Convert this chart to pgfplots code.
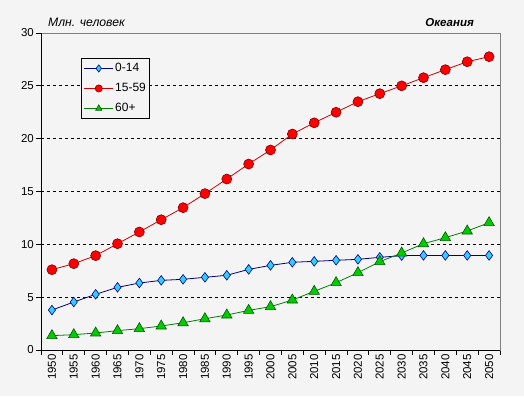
\documentclass[border=0pt]{standalone}
\usepackage{pgfplots}
\pgfplotsset{compat=1.18}
\usepackage{fontspec}
\setmainfont{Liberation Sans}
\definecolor{bg}{RGB}{244,244,244}
\definecolor{navyl}{RGB}{0,0,128}
\definecolor{cyanm}{RGB}{51,204,255}
\definecolor{redl}{RGB}{204,0,0}
\definecolor{redm}{RGB}{255,0,0}
\definecolor{rede}{RGB}{128,0,0}
\definecolor{greenl}{RGB}{0,128,0}
\definecolor{greenm}{RGB}{0,204,0}
\definecolor{greene}{RGB}{0,90,0}
\begin{document}
\begin{tikzpicture}[x=1pt,y=1pt]
\fill[bg] (0,0) rectangle (524,-396);
\node[anchor=base west,font=\fontsize{12.2}{14}\selectfont\itshape,inner sep=0] at (48,-27) {Млн. человек};
\node[anchor=base east,font=\fontsize{11.5}{14}\selectfont\bfseries\itshape,inner sep=0] at (474,-27) {Океания};
\begin{axis}[
  at={(41pt,-350pt)}, anchor=south west,
  scale only axis, width=459pt, height=317pt,
  xmin=-0.5, xmax=20.5, ymin=0, ymax=30,
  axis background/.style={fill=bg},
  axis line style={draw=gray, line width=0.8pt},
  ytick={0,5,...,30},
  xtick={-0.5,0.5,...,20.5}, xticklabels={},
  extra x ticks={0,1,...,20},
  extra x tick labels={1950,1955,1960,1965,1970,1975,1980,1985,1990,1995,2000,2005,2010,2015,2020,2025,2030,2035,2040,2045,2050},
  extra x tick style={major tick length=0pt, grid=none},
  xtick pos=bottom, ytick pos=left,
  tick align=outside, major tick length=5pt,
  tick style={black, line width=0.8pt},
  ymajorgrids, grid style={black, dashed, line width=0.8pt, dash pattern=on 3pt off 3pt},
  /pgf/number format/assume math mode=true,
  tick label style={font=\fontsize{11.5}{13}\selectfont},
  x tick label style={rotate=90, anchor=east, inner sep=1pt, yshift=0pt},
  yticklabel style={inner sep=2pt},
  xticklabel shift=3pt,
  legend style={at={(axis description cs:0.0871,0.921)}, anchor=north west,
    draw=black, line width=0.8pt, fill=bg, font=\fontsize{12}{14}\selectfont,
    inner xsep=2pt, inner ysep=3pt, row sep=6pt,
    nodes={inner sep=2pt, text height=8pt, text depth=2pt}},
  legend cell align=left,
  legend image code/.code={\draw[mark repeat=2,mark phase=2,#1,mark size=3.6pt] plot coordinates {(0pt,0pt)(15pt,0pt)(29pt,0pt)};},
]
\addplot[navyl, line width=0.8pt, mark=diamond*, mark size=4.8pt, mark options={fill=cyanm, draw=navyl, line width=0.6pt, solid}] coordinates {
(0,3.78)(1,4.54)(2,5.27)(3,5.93)(4,6.34)(5,6.59)(6,6.69)(7,6.88)(8,7.07)(9,7.63)(10,8.01)(11,8.30)(12,8.39)(13,8.49)(14,8.58)(15,8.77)(16,8.93)(17,8.95)(18,8.95)(19,8.95)(20,8.95)};
\addlegendentry{0-14}
\addplot[redl, line width=0.8pt, mark=*, mark size=5pt, mark options={fill=redm, draw=rede, line width=0.6pt, solid}] coordinates {
(0,7.60)(1,8.17)(2,8.93)(3,10.06)(4,11.17)(5,12.33)(6,13.47)(7,14.80)(8,16.18)(9,17.60)(10,18.93)(11,20.44)(12,21.50)(13,22.50)(14,23.50)(15,24.26)(16,25.00)(17,25.77)(18,26.53)(19,27.28)(20,27.76)};
\addlegendentry{15-59}
\addplot[greenl, line width=0.8pt, mark=triangle*, mark size=6pt, mark options={fill=greenm, draw=greene, line width=0.6pt, solid}] coordinates {
(0,1.36)(1,1.45)(2,1.61)(3,1.83)(4,2.02)(5,2.27)(6,2.58)(7,2.96)(8,3.31)(9,3.75)(10,4.10)(11,4.73)(12,5.55)(13,6.37)(14,7.32)(15,8.36)(16,9.18)(17,10.06)(18,10.63)(19,11.26)(20,12.05)};
\addlegendentry{60+}
\draw[black, line width=0.8pt] (rel axis cs:0,1) -- (rel axis cs:0,0) -- (rel axis cs:1,0);
\end{axis}
\end{tikzpicture}
\end{document}
